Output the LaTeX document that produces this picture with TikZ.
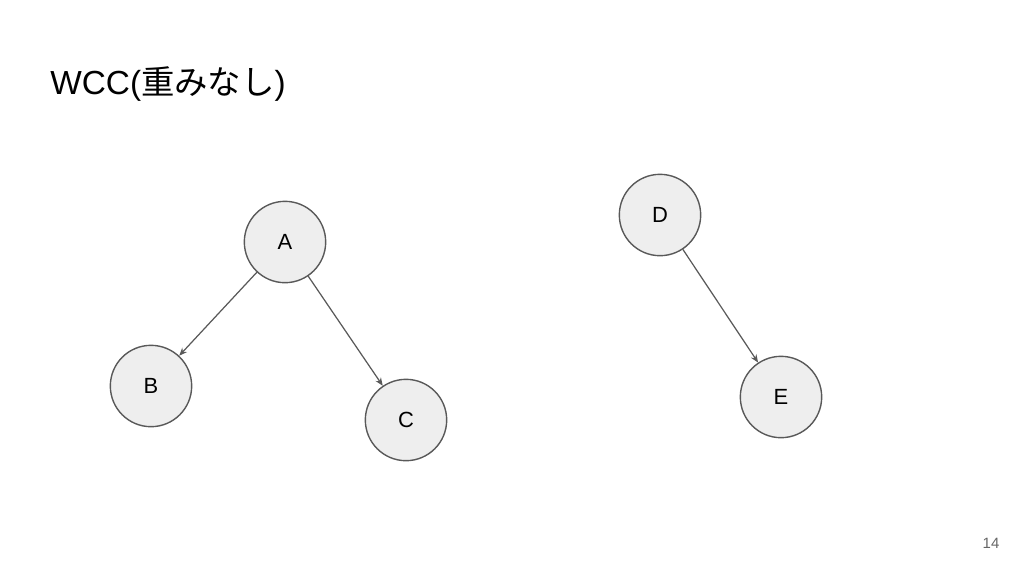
\documentclass[tikz,border=0pt]{standalone}
\usepackage{fontspec}
\setmainfont{Liberation Sans}
\newfontfamily\jpfont{Noto Sans CJK JP}
\usetikzlibrary{arrows.meta,positioning}
\definecolor{nodefill}{RGB}{238,238,238}
\definecolor{nodeline}{RGB}{89,89,89}
\definecolor{edgecol}{RGB}{89,89,89}
\tikzset{
  vertex/.style={circle, draw=nodeline, fill=nodefill, line width=0.8pt,
    minimum size=46.5mm*0.35, inner sep=0pt, font=\fontsize{12.5}{15}\selectfont},
  edgeln/.style={-{Stealth[length=1.6mm,width=1.3mm]}, edgecol, line width=0.7pt},
}
\begin{document}
\begin{tikzpicture}[x=0.02cm,y=-0.02cm]
    \useasboundingbox (0,0) rectangle (1024,576);
    % Title
    \node[anchor=base west, inner sep=0pt, font=\fontsize{19}{22}\selectfont] (title)
      at (50,94) {WCC({\jpfont 重みなし})};
    % Vertices
    \node[vertex] (A) at (285,242) {A};
    \node[vertex] (B) at (151,386) {B};
    \node[vertex] (C) at (406,420) {C};
    \node[vertex] (D) at (660,215) {D};
    \node[vertex] (E) at (781,397) {E};
    % Edges
    \draw[edgeln] (A) -- (B);
    \draw[edgeln] (A) -- (C);
    \draw[edgeln] (D) -- (E);
    % Page number
    \node[gray!80!black, font=\fontsize{8.5}{10}\selectfont] (page) at (991,543) {14};
\end{tikzpicture}
\end{document}
